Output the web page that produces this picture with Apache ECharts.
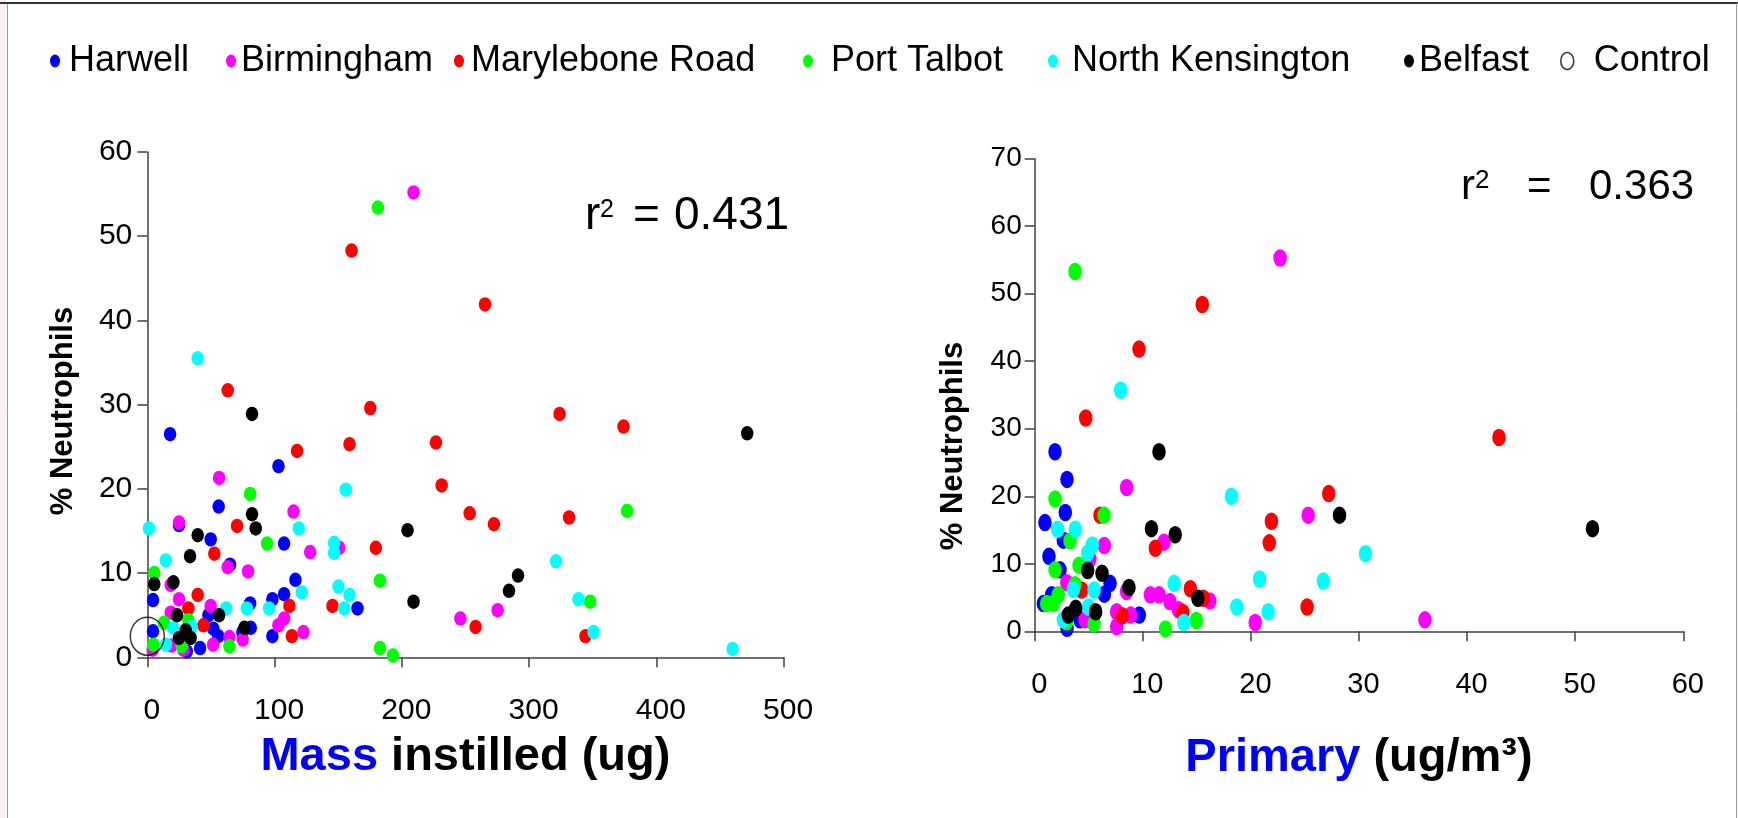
<!DOCTYPE html>
<html>
<head>
<meta charset="utf-8">
<script src="https://cdn.jsdelivr.net/npm/echarts@6/dist/echarts.min.js"></script>
<style>
	html, body { margin: 0; padding: 0; background: #fff; }
	#chart { width: 1738px; height: 818px; }
</style>
</head>
<body>
<div id="chart"></div>
<script>
var sites = ['Harwell', 'Birmingham', 'Marylebone Road', 'Port Talbot', 'North Kensington', 'Belfast'];
var siteColors = ['#0000ff', '#ff00ff', '#ff0000', '#00ff00', '#00ffff', '#000000'];

// left panel: [mass instilled (ug), % neutrophils]
var massHarwell = [[17.9,26.5],[103.1,22.7],[56.1,17.9],[24.9,15.7],[49.8,14.0],[107.5,13.5],[65,11.0],[116.4,9.2],[4.5,6.8],[98.3,6.9],[107.5,7.5],[165.2,5.8],[80.8,6.4],[48,5.0],[51.9,3.4],[4.5,3.1],[81.3,3.5],[74.7,3.0],[98.3,2.5],[55.8,2.5],[41.5,1.1],[31,0.7]];
var massBirmingham = [[209.2,55.2],[56.4,21.3],[114.9,17.3],[24.9,16.0],[150.8,13.0],[128,12.5],[63.2,10.7],[79.2,10.2],[18.4,8.6],[24.9,6.9],[49.8,6.1],[18.4,5.3],[122.7,3.0],[64.5,2.4],[75,2.1],[51.7,1.5],[28.3,0.9],[19.2,1.4],[4.2,0.9],[275.3,5.6],[246,4.6],[103,3.8],[107.5,4.6]];
var massMarylebone = [[160.5,48.3],[265.4,41.9],[63.2,31.7],[175.2,29.6],[324,28.9],[374.2,27.4],[117.7,24.5],[158.9,25.3],[226.8,25.5],[231.3,20.4],[253.3,17.1],[272.4,15.8],[331.4,16.6],[70.5,15.6],[179.6,13.0],[52.7,12.3],[39.6,7.4],[111.7,6.1],[145.5,6.1],[32.3,5.8],[44.1,3.8],[113.6,2.5],[258,3.6],[344.3,2.5]];
var massPortTalbot = [[181.2,53.4],[80.8,19.4],[94.1,13.5],[5.5,10.0],[182.8,9.1],[348,6.6],[377,17.4],[13.1,4.1],[32.3,4.4],[64.5,1.3],[27,1.3],[4.7,1.5],[182.8,1.1],[193,0.2]];
var massNorthKen = [[39.6,35.5],[156,19.9],[1.3,15.3],[119,15.3],[146.8,13.6],[146.8,12.4],[14.5,11.5],[121.4,7.7],[150.2,8.4],[158.9,7.4],[154.7,5.8],[78.2,5.8],[95.7,5.8],[61.9,5.8],[20.5,3.5],[34.9,3.6],[14.7,1.5],[321.2,11.4],[338.8,6.9],[350.6,3.0],[459.9,1.0]];
var massBelfast = [[82.3,28.9],[82.3,17.0],[85.2,15.3],[204.5,15.1],[39.6,14.5],[33.6,12.0],[5.5,8.7],[20.5,8.9],[209.2,6.6],[23.4,5.0],[56.4,5.0],[76.3,3.5],[30.2,3.2],[24.9,2.3],[34.1,2.3],[471.4,26.6],[291.3,9.7],[284.2,7.9]];
var massControl = [[0,2.5]];

// right panel: [primary (ug/m3), % neutrophils]
var primHarwell = [[1.88,26.6],[2.99,22.5],[2.83,17.6],[0.95,16.1],[2.65,13.5],[1.32,11.1],[2.34,9.1],[6.97,7.1],[6.44,5.5],[9.68,2.4],[4.19,1.7],[2.99,0.45],[0.8,4.1],[1.57,5.4]];
var primBirmingham = [[22.7,55.3],[8.5,21.3],[25.3,17.2],[11.96,13.2],[6.44,12.7],[5.1,10.7],[8.5,5.9],[16.2,4.5],[10.7,5.4],[11.5,5.4],[12.5,4.4],[13.3,3.2],[8.88,2.4],[7.58,2.9],[7.58,0.7],[20.4,1.3],[4.65,1.7],[2.96,7.2],[36.1,1.7]];
var primMarylebone = [[15.5,48.4],[9.65,41.8],[4.72,31.6],[27.2,20.4],[6.04,17.2],[21.9,16.3],[11.16,12.3],[21.7,13.1],[14.4,6.3],[15.6,4.9],[13.7,2.8],[8.1,2.3],[25.2,3.6],[4.35,6.1],[42.95,28.7]];
var primPortTalbot = [[3.73,53.3],[1.88,19.6],[6.42,17.2],[3.27,13.4],[4.1,9.8],[1.88,9.1],[14.95,1.6],[12.1,0.35],[5.49,1.1],[2.96,1.4],[3.73,6.9],[1.11,4.1],[2.18,5.4],[1.72,4.1]];
var primNorthKen = [[7.95,35.7],[18.2,20.0],[2.13,15.1],[3.76,15.1],[5.33,12.8],[4.9,11.6],[12.9,7.1],[13.8,1.3],[20.8,7.75],[18.7,3.6],[21.6,2.9],[26.7,7.45],[4.96,3.6],[2.65,1.7],[3.57,6.2],[5.49,6.1],[30.6,11.5]];
var primBelfast = [[11.5,26.6],[28.2,17.2],[10.8,15.2],[13.0,14.3],[4.9,9.0],[6.23,8.6],[8.72,6.5],[15.1,4.9],[5.64,2.9],[3.1,2.4],[3.79,3.4],[51.6,15.2]];

var massTicks = [0, 100, 200, 300, 400, 500];
var massYTicks = [0, 10, 20, 30, 40, 50, 60];
var primTicks = [0, 10, 20, 30, 40, 50, 60];
var primYTicks = [0, 10, 20, 30, 40, 50, 60, 70];

var r2Mass = '0.431';
var r2Prim = '0.363';

var massSets = [massHarwell, massBirmingham, massMarylebone, massPortTalbot, massNorthKen, massBelfast];
var primSets = [primHarwell, primBirmingham, primMarylebone, primPortTalbot, primNorthKen, primBelfast];

var FONT = '"Liberation Sans", Arial, sans-serif';
var AXIS_COLOR = '#404040';

function valueAxis(ticks, grid, extra) {
	var ax = {
		type: 'value',
		gridIndex: grid,
		min: ticks[0],
		max: ticks[ticks.length - 1],
		interval: ticks[1] - ticks[0],
		splitLine: { show: false },
		axisLine: { show: true, onZero: false, lineStyle: { color: AXIS_COLOR, width: 1.5 } },
		axisTick: { show: true, length: 10, lineStyle: { color: AXIS_COLOR, width: 1.5 } },
		axisLabel: { color: '#000', fontFamily: FONT, fontSize: 30 }
	};
	for (var k in extra) {
		if (k === 'axisLabel') {
			for (var j in extra[k]) ax.axisLabel[j] = extra[k][j];
		} else {
			ax[k] = extra[k];
		}
	}
	return ax;
}

var series = [];
sites.forEach(function(name, i) {
	series.push({
		name: name, type: 'scatter', xAxisIndex: 0, yAxisIndex: 0,
		data: massSets[i], symbol: 'circle', symbolSize: [12.5, 14.5],
		itemStyle: { color: siteColors[i], opacity: 1 }
	});
	series.push({
		name: name, type: 'scatter', xAxisIndex: 1, yAxisIndex: 1,
		data: primSets[i], symbol: 'circle', symbolSize: [13.5, 17.5],
		itemStyle: { color: siteColors[i], opacity: 1 }
	});
});
series.push({
	name: 'Control', type: 'scatter', xAxisIndex: 0, yAxisIndex: 0,
	data: massControl, symbol: 'circle', symbolSize: [34, 38], z: 5,
	itemStyle: { color: 'rgba(0,0,0,0)', borderColor: '#000', borderWidth: 1.5 }
});

// legend items sit at uneven spots, so one legend per item
var ellipse = 'path://M0,-1A1,1,0,1,1,0,1A1,1,0,1,1,0,-1Z';
var legendSpots = [
	{ left: 50, pad: 4 },
	{ left: 226, pad: 0 },
	{ left: 454, pad: 2 },
	{ left: 803, pad: 13 },
	{ left: 1048, pad: 9 },
	{ left: 1404, pad: 0 },
	{ left: 1560, pad: 15 }
];
var legendNames = sites.concat(['Control']);
var legends = legendNames.map(function(name, i) {
	var isControl = name === 'Control';
	return {
		data: [name],
		left: legendSpots[i].left,
		top: 43,
		padding: 0,
		icon: ellipse,
		symbolKeepAspect: false,
		itemWidth: isControl ? 13 : 10,
		itemHeight: isControl ? 17 : 13,
		itemStyle: isControl ? { color: '#fff', borderColor: '#000', borderWidth: 1.5 } : {},
		textStyle: {
			fontFamily: FONT, fontSize: 36, color: '#000',
			padding: [8, 0, 0, legendSpots[i].pad]
		}
	};
});

function txt(x, y, s, size) {
	return {
		type: 'text', z: 10,
		style: { text: s, x: x, y: y, fill: '#000', fontFamily: FONT, fontSize: size, align: 'left', verticalAlign: 'middle' }
	};
}

function rotTitle(cx, cy, s, size) {
	return {
		type: 'text', x: cx, y: cy, rotation: Math.PI / 2, z: 10,
		style: { text: s, x: 0, y: 0, fill: '#000', fontFamily: FONT, fontSize: size, fontWeight: 'bold', align: 'center', verticalAlign: 'middle' }
	};
}

var option = {
	animation: false,
	backgroundColor: '#fff',
	legend: legends,
	grid: [
		{ left: 147.3, top: 152, width: 636.3, height: 505.3 },
		{ left: 1034.7, top: 158.7, width: 648.6, height: 472.6 }
	],
	xAxis: [
		valueAxis(massTicks, 0, {
			axisLabel: { margin: 38, padding: [0, 0, 0, 9] },
			name: '{b|Mass} instilled (ug)',
			nameLocation: 'middle',
			nameGap: 76,
			nameTextStyle: {
				fontFamily: FONT, fontSize: 47, fontWeight: 'bold', color: '#000',
				rich: { b: { fontFamily: FONT, fontSize: 47, fontWeight: 'bold', color: '#0000ff' } }
			}
		}),
		valueAxis(primTicks, 1, {
			axisLabel: { margin: 39, fontSize: 29, padding: [0, 0, 0, 9] },
			name: '{b|Primary} (ug/m³)',
			nameLocation: 'middle',
			nameGap: 103,
			nameTextStyle: {
				fontFamily: FONT, fontSize: 47, fontWeight: 'bold', color: '#000',
				rich: { b: { fontFamily: FONT, fontSize: 47, fontWeight: 'bold', color: '#0000ff' } }
			}
		})
	],
	yAxis: [
		valueAxis(massYTicks, 0, { axisLabel: { margin: 15 } }),
		valueAxis(primYTicks, 1, { axisLabel: { margin: 13, fontSize: 28 } })
	],
	series: series,
	graphic: [
		{ type: 'rect', shape: { x: 0, y: 0, width: 7, height: 818 }, style: { fill: '#fbeeee' } },
		{ type: 'line', shape: { x1: 7.5, y1: 3, x2: 7.5, y2: 818 }, style: { stroke: '#9a9a9a', lineWidth: 1 } },
		{ type: 'line', shape: { x1: 0, y1: 3, x2: 1738, y2: 3 }, style: { stroke: '#333', lineWidth: 2 } },
		{ type: 'line', shape: { x1: 1736.5, y1: 3, x2: 1736.5, y2: 818 }, style: { stroke: '#9a9a9a', lineWidth: 1 } },
		rotTitle(63.3, 411, '% Neutrophils', 31),
		rotTitle(953, 446, '% Neutrophils', 31),
		txt(585, 216, 'r', 46),
		txt(600, 210, '2', 25),
		txt(633, 216, '=', 46),
		txt(674, 216, r2Mass, 46),
		txt(1461, 187, 'r', 42),
		txt(1475, 180.5, '2', 26),
		txt(1527, 187, '=', 42),
		txt(1589, 187, r2Prim, 42)
	]
};

var chart = echarts.init(document.getElementById('chart'));
chart.setOption(option);
</script>
</body>
</html>
